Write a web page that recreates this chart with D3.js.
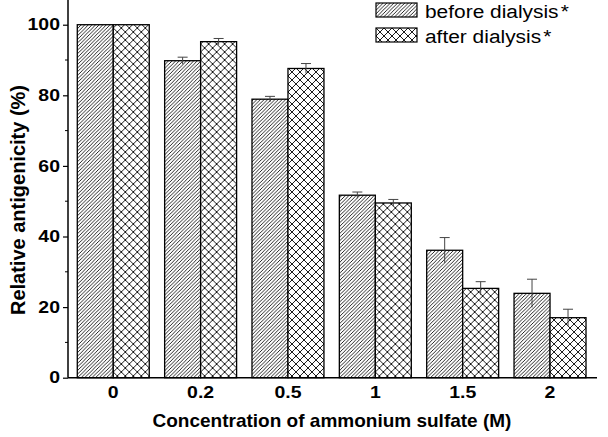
<!DOCTYPE html>
<html>
<head>
<meta charset="utf-8">
<script src="https://cdn.jsdelivr.net/npm/d3@7"></script>
<style>
  body { margin: 0; background: #fff; }
  svg { display: block; font-family: "Liberation Sans", Arial, sans-serif; }
</style>
</head>
<body>
<div id="chart"></div>
<script>
// data
var categories = ["0", "0.2", "0.5", "1", "1.5", "2"];
var seriesNames = ["before dialysis", "after dialysis"];
var beforeValues = [100, 89.8, 78.9, 51.7, 36.1, 23.9];
var afterValues = [100, 95.2, 87.6, 49.5, 25.3, 17.0];
var beforeErr = [0, 1.0, 0.8, 0.9, 3.6, 4.0];
var afterErr = [0, 0.9, 1.4, 1.0, 1.9, 2.4];
var yTicks = [0, 20, 40, 60, 80, 100];
var yMinorTicks = [10, 30, 50, 70, 90];

var svgWidth = 608;
var svgHeight = 437;
var stretch = 1.18; // the labels in the figure are drawn a bit wide

var svg = d3.select("#chart")
  .append("svg")
  .attr("width", svgWidth)
  .attr("height", svgHeight);

// hatch patterns
var defs = svg.append("defs");

var diag = defs.append("pattern")
  .attr("id", "diag")
  .attr("patternUnits", "userSpaceOnUse")
  .attr("width", 3.6)
  .attr("height", 3.6);
diag.append("rect").attr("width", 3.6).attr("height", 3.6).attr("fill", "#fff");
diag.append("path")
  .attr("d", "M-0.9,0.9 l1.8,-1.8 M0,3.6 l3.6,-3.6 M2.7,4.5 l1.8,-1.8")
  .attr("stroke", "#000")
  .attr("stroke-width", 0.85);

var cross = defs.append("pattern")
  .attr("id", "cross")
  .attr("patternUnits", "userSpaceOnUse")
  .attr("width", 8)
  .attr("height", 8);
cross.append("rect").attr("width", 8).attr("height", 8).attr("fill", "#fff");
cross.append("path")
  .attr("d", "M0,0 L8,8 M0,8 L8,0")
  .attr("stroke", "#000")
  .attr("stroke-width", 0.9);

var fills = ["url(#diag)", "url(#cross)"];

// scales
var x0 = d3.scaleBand()
  .domain(categories)
  .range([69.6, 593.7])
  .paddingInner(0.176)
  .paddingOuter(0.088);

var x1 = d3.scaleBand()
  .domain([0, 1])
  .range([0, x0.bandwidth()]);

var y = d3.scaleLinear()
  .domain([0, 107])
  .range([377.7, 0]);

var axisLeft = 68;

var rows = categories.map(function(c, i) {
  return {
    cat: c,
    vals: [
      { s: 0, v: beforeValues[i], e: beforeErr[i] },
      { s: 1, v: afterValues[i], e: afterErr[i] }
    ]
  };
});

// bars
var groups = svg.selectAll("g.grp")
  .data(rows)
  .enter()
  .append("g")
  .attr("class", "grp")
  .attr("transform", function(d) { return "translate(" + x0(d.cat) + ",0)"; });

groups.selectAll("rect")
  .data(function(d) { return d.vals; })
  .enter()
  .append("rect")
  .attr("x", function(d) { return x1(d.s); })
  .attr("y", function(d) { return y(d.v); })
  .attr("width", x1.bandwidth())
  .attr("height", function(d) { return y(0) - y(d.v); })
  .attr("fill", function(d) { return fills[d.s]; })
  .attr("stroke", "#000")
  .attr("stroke-width", 1.3);

// error bars
var errs = groups.selectAll("g.err")
  .data(function(d) { return d.vals.filter(function(v) { return v.e > 0; }); })
  .enter()
  .append("g")
  .attr("class", "err")
  .attr("stroke", "#444")
  .attr("stroke-width", 1);

errs.append("line")
  .attr("x1", function(d) { return x1(d.s) + x1.bandwidth() / 2; })
  .attr("x2", function(d) { return x1(d.s) + x1.bandwidth() / 2; })
  .attr("y1", function(d) { return y(d.v - d.e); })
  .attr("y2", function(d) { return y(d.v + d.e); });

errs.append("line")
  .attr("x1", function(d) { return x1(d.s) + x1.bandwidth() / 2 - 5; })
  .attr("x2", function(d) { return x1(d.s) + x1.bandwidth() / 2 + 5; })
  .attr("y1", function(d) { return y(d.v + d.e); })
  .attr("y2", function(d) { return y(d.v + d.e); });

// y axis
var leftAxis = d3.axisLeft(y)
  .tickValues(yTicks)
  .tickSize(5)
  .tickPadding(3);

var yAxisG = svg.append("g")
  .attr("transform", "translate(" + axisLeft + ",0)")
  .call(leftAxis);
yAxisG.select(".domain").remove();
yAxisG.append("line")
  .attr("x1", 0).attr("x2", 0)
  .attr("y1", 0).attr("y2", y(0))
  .attr("stroke", "#000")
  .attr("stroke-width", 1.5);
yAxisG.selectAll(".tick line").attr("stroke-width", 1.2);
yAxisG.selectAll(".tick text")
  .attr("fill", "#000")
  .attr("x", -8 / stretch)
  .attr("transform", "scale(" + stretch + ",1)")
  .style("font-size", "16.5px")
  .style("font-weight", "bold");

yAxisG.selectAll("line.minor")
  .data(yMinorTicks)
  .enter()
  .append("line")
  .attr("class", "minor")
  .attr("x1", -3).attr("x2", 0)
  .attr("y1", function(d) { return y(d); })
  .attr("y2", function(d) { return y(d); })
  .attr("stroke", "#000")
  .attr("stroke-width", 1);

// x axis
var bottomAxis = d3.axisBottom(x0)
  .tickSize(0)
  .tickPadding(9);

var xAxisG = svg.append("g")
  .attr("transform", "translate(0," + y(0) + ")")
  .call(bottomAxis);
xAxisG.select(".domain").remove();
xAxisG.append("line")
  .attr("x1", axisLeft).attr("x2", 597)
  .attr("y1", 0).attr("y2", 0)
  .attr("stroke", "#000")
  .attr("stroke-width", 1.5);
xAxisG.selectAll(".tick text")
  .attr("fill", "#000")
  .attr("transform", "scale(" + stretch + ",1)")
  .style("font-size", "16.5px")
  .style("font-weight", "bold");

// axis titles
svg.append("text")
  .attr("x", 332)
  .attr("y", 427)
  .attr("text-anchor", "middle")
  .style("font-size", "19px")
  .style("font-weight", "bold")
  .text("Concentration of ammonium sulfate (M)");

svg.append("text")
  .attr("transform", "translate(24.5,200) rotate(-90)")
  .attr("text-anchor", "middle")
  .style("font-size", "20px")
  .style("font-weight", "bold")
  .text("Relative antigenicity (%)");

// legend
var legend = svg.selectAll("g.legend")
  .data(seriesNames)
  .enter()
  .append("g")
  .attr("class", "legend")
  .attr("transform", function(d, i) { return "translate(376," + (3 + i * 25) + ")"; });

legend.append("rect")
  .attr("width", 41)
  .attr("height", 14)
  .attr("fill", function(d, i) { return fills[i]; })
  .attr("stroke", "#000")
  .attr("stroke-width", 1.2);

var legendText = legend.append("text")
  .attr("transform", "translate(49,14.5) scale(1.1,1)")
  .style("font-size", "19px");
legendText.append("tspan").text(function(d) { return d; });
legendText.append("tspan").attr("dx", 2).text("*");
</script>
</body>
</html>
